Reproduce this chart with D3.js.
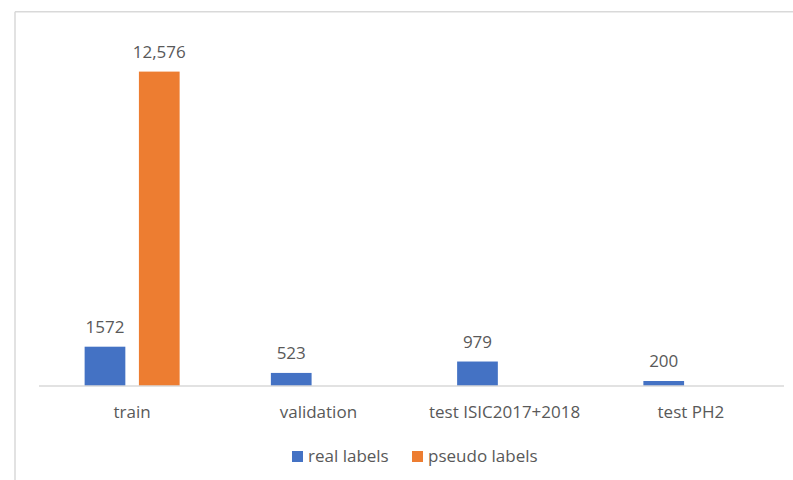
<!DOCTYPE html>
<html>
<head>
<meta charset="utf-8">
<script src="https://cdn.jsdelivr.net/npm/d3@7"></script>
<style>
  html, body { margin: 0; padding: 0; background: #ffffff; }
  svg { display: block; }
  text { font-family: "Open Sans", "Liberation Sans", sans-serif; fill: #595959; }
</style>
</head>
<body>
<svg id="chart" width="793" height="480"></svg>
<script>
// Dataset split sizes
const categories = ["train", "validation", "test ISIC2017+2018", "test PH2"];
const seriesNames = ["real labels", "pseudo labels"];
const realLabels = [1572, 523, 979, 200];
const pseudoLabels = [12576, null, null, null];
const valueLabelsReal = ["1572", "523", "979", "200"];
const valueLabelsPseudo = ["12,576", null, null, null];
const colors = ["#4472C4", "#ED7D31"];

const svg = d3.select("#chart");
const W = 793, H = 480;

// Frame lines (top and left edges of the chart area)
svg.append("line").attr("x1", 15).attr("x2", W).attr("y1", 11.7).attr("y2", 11.7)
  .attr("stroke", "#d9d9d9").attr("stroke-width", 1.5);
svg.append("line").attr("x1", 15).attr("x2", 15).attr("y1", 11.7).attr("y2", H)
  .attr("stroke", "#d9d9d9").attr("stroke-width", 1.5);

const left = 39, right = 784, baseY = 386;

const x0 = d3.scaleBand().domain(categories).range([left, right]).paddingInner(0).paddingOuter(0);
const x1 = d3.scaleBand().domain(seriesNames).range([0, 95]).paddingInner(0.25);
const groupOffset = (x0.bandwidth() - 95) / 2;
const y = d3.scaleLinear().domain([0, 14000]).range([baseY, 36]);

const seriesValues = [realLabels, pseudoLabels];
const seriesText = [valueLabelsReal, valueLabelsPseudo];

const rows = [];
categories.forEach((c, i) => {
  seriesNames.forEach((s, j) => {
    const v = seriesValues[j][i];
    if (v != null) rows.push({ c, s, v, j, label: seriesText[j][i] });
  });
});

svg.append("g").selectAll("rect").data(rows).join("rect")
  .attr("x", d => x0(d.c) + groupOffset + x1(d.s))
  .attr("y", d => y(d.v))
  .attr("width", x1.bandwidth())
  .attr("height", d => baseY - y(d.v))
  .attr("fill", d => colors[d.j]);

svg.append("g").selectAll("text").data(rows).join("text")
  .attr("x", d => x0(d.c) + groupOffset + x1(d.s) + x1.bandwidth() / 2)
  .attr("y", d => y(d.v) - 14)
  .attr("text-anchor", "middle")
  .attr("font-size", 17)
  .text(d => d.label);

// Category axis
svg.append("line").attr("x1", left).attr("x2", right).attr("y1", baseY).attr("y2", baseY)
  .attr("stroke", "#d9d9d9").attr("stroke-width", 1.5);

svg.append("g").selectAll("text").data(categories).join("text")
  .attr("x", d => x0(d) + x0.bandwidth() / 2)
  .attr("y", 418)
  .attr("text-anchor", "middle")
  .attr("font-size", 17)
  .text(d => d);

// Legend
const legendX = [292, 412];
const lg = svg.append("g").selectAll("g").data(seriesNames).join("g")
  .attr("transform", (d, i) => `translate(${legendX[i]},451)`);
lg.append("rect").attr("width", 11).attr("height", 11).attr("fill", (d, i) => colors[i]);
lg.append("text").attr("x", 16).attr("y", 11).attr("font-size", 17).text(d => d);
</script>
</body>
</html>
